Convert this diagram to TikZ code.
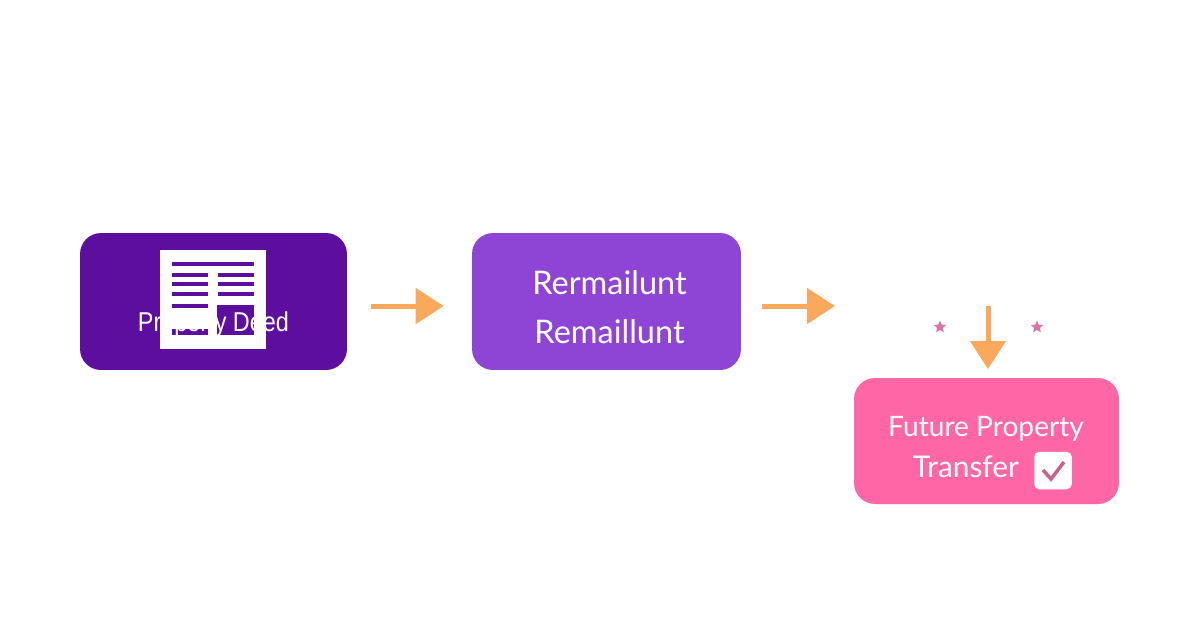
\documentclass[tikz,border=0pt]{standalone}
\usepackage{fontspec}
\setmainfont{Lato}
\newfontfamily\deedfont{Liberation Sans}
\usetikzlibrary{arrows.meta,shapes.geometric}
\definecolor{deedpurple}{HTML}{5E0E9F}
\definecolor{remainpurple}{HTML}{8E45D5}
\definecolor{futurepink}{HTML}{FE66A6}
\definecolor{flowarrow}{HTML}{F9A85C}
\definecolor{starpink}{HTML}{DA73A2}
\definecolor{tickpink}{HTML}{C9628F}

\begin{document}
\begin{tikzpicture}
  [x=.02cm,y=-.02cm,
   stagebox/.style={rectangle,rounded corners=.42cm,text=white,inner sep=0pt},
   stagetext/.style={text=white,font=\fontsize{18.5}{28}\selectfont,align=center,inner sep=0pt},
   flow/.style={draw=flowarrow,line width=.1cm,-{Triangle[length=.56cm,width=.7cm]}},
   sparkle/.style={star,star points=5,star point ratio=2.2,fill=starpink,inner sep=0pt,minimum size=.26cm},
   rowline/.style={draw=deedpurple,line width=.075cm}]

  \useasboundingbox (0,0) rectangle (1200,630);

  \node (deed) [stagebox,fill=deedpurple,minimum width=5.34cm,minimum height=2.74cm] at (213.5,301.5) {};
  \node (remain) [stagebox,fill=remainpurple,minimum width=5.38cm,minimum height=2.74cm] at (606.5,301.5) {};
  \node (future) [stagebox,fill=futurepink,minimum width=5.3cm,minimum height=2.52cm] at (986.5,441) {};

  % document icon on the first box
  \node (sheet) [fill=white,minimum width=2.12cm,minimum height=1.98cm,inner sep=0pt] at (213,299.5) {};
  \coordinate (topl) at (172,264);
  \coordinate (topr) at (254,264);
  \draw[rowline] (topl) -- (topr);
  \foreach \rowy in {275,284,294} {
    \draw[rowline] (172,\rowy) -- (208,\rowy);
    \draw[rowline] (218,\rowy) -- (254,\rowy);
  }
  \draw[rowline] (172,306) -- (208,306);
  \fill[deedpurple] (217,305) rectangle (254,335);
  \fill[deedpurple] (172,329) rectangle (208,335);

  \node (deedlabel) [text=white,inner sep=0pt,font=\deedfont\fontsize{15.5}{18}\selectfont] at (213.5,324) {\scalebox{.86}[1]{Property Deed}};
  \node (remainlabel) [stagetext] at (609.5,307) {Rermailunt\\Remaillunt};
  \node (futurelabel) [stagetext,font=\fontsize{16}{20}\selectfont] at (986,429) {Future Property};
  \node (transferlabel) [stagetext,font=\fontsize{17}{20}\selectfont] at (966,467) {Transfer};

  % tick box
  \node (tickbox) [fill=white,rounded corners=.1cm,minimum size=.75cm,inner sep=0pt] at (1053,470.5) {};
  \coordinate (tick1) at (1043,470);
  \coordinate (tick2) at (1051,479);
  \coordinate (tick3) at (1064,462);
  \draw[tickpink,line width=.07cm] (tick1) -- (tick2) -- (tick3);

  % arrows
  \coordinate (outend) at (835,306);
  \coordinate (downstart) at (988,306);
  \coordinate (remainin) at (remain.west |- 0,306);
  \coordinate (deedout) at (deed.east |- 0,306);
  \coordinate (remainout) at (remain.east |- 0,306);
  \coordinate (futuretop) at (988,378);
  \draw[flow,shorten <=.48cm,shorten >=.56cm] (deedout) -- (remainin);
  \draw[flow,shorten <=.42cm] (remainout) -- (outend);
  \draw[flow,shorten >=.18cm] (downstart) -- (futuretop);

  \node (starl) [sparkle] at (940,327) {};
  \node (starr) [sparkle] at (1037,327) {};
\end{tikzpicture}
\end{document}
